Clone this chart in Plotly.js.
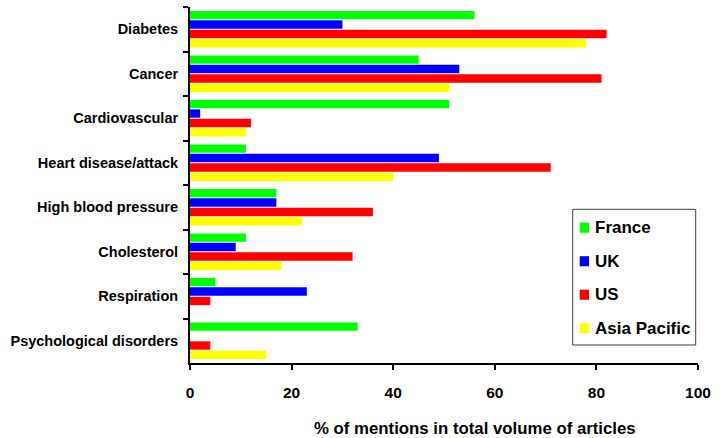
<!DOCTYPE html>
<html>
<head>
<meta charset="utf-8">
<script src="https://cdn.plot.ly/plotly-3.0.1.min.js"></script>
<style>
  html, body { margin: 0; padding: 0; background: #fff; }
  #chart { width: 725px; height: 438px; }
</style>
</head>
<body>
<div id="chart"></div>
<script>
// Topics, top to bottom
const topics = [
  "Diabetes",
  "Cancer",
  "Cardiovascular",
  "Heart disease/attack",
  "High blood pressure",
  "Cholesterol",
  "Respiration",
  "Psychological disorders"
];

// % of mentions per region
const france      = [56, 45, 51, 11, 17, 11, 5, 33];
const uk          = [30, 53, 2, 49, 17, 9, 23, 0];
const us          = [82, 81, 12, 71, 36, 32, 4, 4];
const asiaPacific = [78, 51, 11, 40, 22, 18, 0, 15];

const seriesNames  = ["France", "UK", "US", "Asia Pacific"];
const seriesValues = [france, uk, us, asiaPacific];
const seriesColors = ["#00ff00", "#0000ff", "#ff0000", "#ffff00"];

const xTicks = [0, 20, 40, 60, 80, 100];
const xTitle = "% of mentions in total volume of articles";

const FONT = "Liberation Sans, Arial, Helvetica, sans-serif";

const traces = seriesNames.map((name, i) => ({
  type: "bar",
  orientation: "h",
  name: name,
  y: topics,
  x: seriesValues[i],
  marker: { color: seriesColors[i], line: { width: 0 } },
  hoverinfo: "x+y+name"
}));

// Boxed legend on the right, built from the series lists
const legX0 = 0.7533, legX1 = 0.9955, legY0 = 0.0506, legY1 = 0.4317;
const shapes = [{
  type: "rect", xref: "paper", yref: "paper",
  x0: legX0, x1: legX1, y0: legY0, y1: legY1,
  line: { color: "#404040", width: 1 }, fillcolor: "#ffffff", layer: "above"
}];
const annotations = [];
const rowStep = 0.0941;
seriesNames.forEach((name, i) => {
  const yc = 0.380 - i * rowStep;
  shapes.push({
    type: "rect", xref: "paper", yref: "paper",
    x0: legX0 + 0.0138, x1: legX0 + 0.0322,
    y0: yc - 0.0142, y1: yc + 0.0142,
    line: { width: 0 }, fillcolor: seriesColors[i], layer: "above"
  });
  annotations.push({
    xref: "paper", yref: "paper", x: legX0 + 0.0405, y: yc,
    xanchor: "left", yanchor: "middle", showarrow: false,
    text: name, font: { family: FONT, size: 17, color: "#000", weight: "bold" }
  });
});

// x-axis title
annotations.push({
  xref: "paper", yref: "paper", x: 0.561, y: -0.183,
  xanchor: "center", yanchor: "middle", showarrow: false,
  text: xTitle, font: { family: FONT, size: 16.8, color: "#000", weight: "bold" }
});

const layout = {
  width: 725,
  height: 438,
  margin: { l: 190, r: 27, t: 7, b: 75 },
  paper_bgcolor: "#ffffff",
  plot_bgcolor: "#ffffff",
  barmode: "group",
  bargap: 0.15,
  bargroupgap: 0.12,
  showlegend: false,
  font: { family: FONT, size: 14, color: "#000", weight: "bold" },
  xaxis: {
    range: [0, 100],
    tickvals: xTicks,
    ticktext: xTicks.map(String),
    showgrid: false,
    zeroline: false,
    showline: true,
    linecolor: "#000",
    linewidth: 2,
    ticks: "outside",
    ticklen: 5,
    tickwidth: 2,
    tickcolor: "#000",
    ticklabelstandoff: 9,
    tickfont: { family: FONT, size: 15.5, color: "#000", weight: "bold" },
    fixedrange: true
  },
  yaxis: {
    type: "category",
    range: [7.5, -0.5],
    showgrid: false,
    zeroline: false,
    showline: true,
    linecolor: "#000",
    linewidth: 2,
    ticks: "outside",
    tickson: "boundaries",
    ticklen: 5,
    tickwidth: 2,
    tickcolor: "#000",
    ticklabelstandoff: 7,
    tickfont: { family: FONT, size: 14.5, color: "#000", weight: "bold" },
    fixedrange: true
  },
  shapes: shapes,
  annotations: annotations
};

Plotly.newPlot("chart", traces, layout, { displayModeBar: false, staticPlot: true });
</script>
</body>
</html>
